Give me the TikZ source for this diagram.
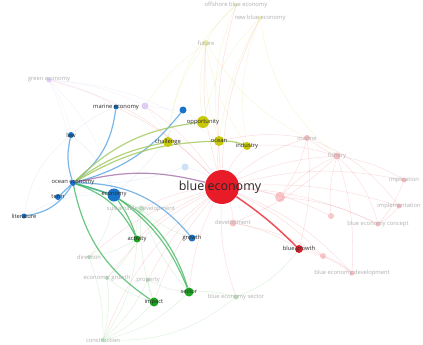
\documentclass[tikz,border=0pt]{standalone}
\usepackage{fontspec}
\setmainfont{Open Sans}
\pgfdeclarelayer{bg}
\pgfdeclarelayer{edges}
\pgfsetlayers{bg,edges,main}
\definecolor{cred}{RGB}{232,28,40}
\definecolor{cblue}{RGB}{25,115,200}
\definecolor{cyel}{RGB}{200,200,10}
\definecolor{cgrn}{RGB}{25,165,30}
\definecolor{cpur}{RGB}{200,170,235}
\definecolor{eblue}{RGB}{90,165,225}
\definecolor{egrn}{RGB}{70,185,100}
\definecolor{eyel}{RGB}{160,200,90}
\definecolor{epur}{RGB}{165,110,170}
\definecolor{txt}{RGB}{40,40,40}
\definecolor{ftxt}{RGB}{175,175,175}
\tikzset{
  dot/.style={circle,inner sep=0pt,minimum size=#1},
  lab/.style={font=\fontsize{5.8}{6.5}\selectfont,text=txt,inner sep=0pt},
  flab/.style={font=\fontsize{5.8}{6.5}\selectfont,text=ftxt,inner sep=0pt},
  ed/.style={line width=1.2pt,opacity=0.8},
  fe/.style={line width=0.45pt,opacity=0.15},
}
\begin{document}
\begin{tikzpicture}[x=1pt,y=1pt]
\begin{pgfonlayer}{bg}
\fill[white] (0,0) rectangle (423,-345);
\end{pgfonlayer}
\useasboundingbox (0,0) rectangle (423,-345);
% prominent nodes
\node[dot=34pt,fill=cred] (be) at (222,-187) {};
\node[font=\fontsize{12.5}{14}\selectfont,text=txt,inner sep=0pt] (belab) at (220,-187) {blue economy};
\node[dot=6pt,fill=cblue,label={[lab]center:ocean economy}] (oe) at (73,-183) {};
\node[dot=13pt,fill=cblue,label={[lab]center:economy}] (eco) at (114,-195) {};
\node[dot=6pt,fill=cblue,label={[lab]center:law}] (law) at (71,-135) {};
\node[dot=6pt,fill=cblue,label={[lab]center:term}] (term) at (58,-197) {};
\node[dot=5pt,fill=cblue,label={[lab]center:literature}] (lit) at (24,-216) {};
\node[dot=5pt,fill=cblue,label={[lab]center:marine economy}] (me) at (116,-107) {};
\node[dot=7pt,fill=cblue] (sea) at (183,-110) {};
\node[dot=7pt,fill=cblue,label={[lab]center:growth}] (gr) at (192,-238) {};
\node[dot=12pt,fill=cyel,label={[lab]center:opportunity}] (opp) at (203,-122) {};
\node[dot=10pt,fill=cyel,label={[lab]center:challenge}] (cha) at (168,-142) {};
\node[dot=10pt,fill=cyel,label={[lab]center:ocean}] (oce) at (219,-141) {};
\node[dot=8pt,fill=cyel,label={[lab]center:industry}] (ind) at (247,-146) {};
\node[dot=7pt,fill=cgrn,label={[lab]center:activity}] (act) at (137,-239) {};
\node[dot=9pt,fill=cgrn,label={[lab]center:sector}] (sec) at (189,-292) {};
\node[dot=9pt,fill=cgrn,label={[lab]center:impact}] (imp) at (154,-302) {};
\node[dot=8pt,fill=cred,label={[lab]center:blue growth}] (bg) at (299,-249) {};
% faint nodes
\node[dot=4pt,fill=cyel,opacity=0.3,label={[flab]center:offshore blue economy}] (obe) at (236,-5) {};
\node[dot=4pt,fill=cyel,opacity=0.3,label={[flab]center:new blue economy}] (nbe) at (260,-18) {};
\node[dot=6pt,fill=cyel,opacity=0.35,label={[flab]center:future}] (fut) at (206,-43) {};
\node[dot=5pt,fill=cpur,opacity=0.6,label={[flab]center:green economy}] (ge) at (49,-80) {};
\node[dot=7pt,fill=cpur,opacity=0.6] (pur) at (145,-106) {};
\node[dot=6pt,fill=cred,opacity=0.3,label={[flab]center:marine}] (mar) at (307,-138) {};
\node[dot=7pt,fill=cred,opacity=0.3,label={[flab]center:fishery}] (fis) at (337,-156) {};
\node[dot=5pt,fill=cred,opacity=0.3,label={[flab]center:implication}] (impl) at (404,-180) {};
\node[dot=5pt,fill=cred,opacity=0.3,label={[flab]center:implementation}] (imple) at (399,-206) {};
\node[dot=5pt,fill=cred,opacity=0.3,label={[flab]center:blue economy concept}] (bec) at (378,-224) {};
\node[dot=5pt,fill=cred,opacity=0.3,label={[flab]center:blue economy development}] (bed) at (352,-273) {};
\node[dot=7pt,fill=cred,opacity=0.25,label={[flab]center:development}] (dev) at (233,-223) {};
\node[dot=10pt,fill=cred,opacity=0.25] (r1) at (280,-197) {};
\node[dot=6pt,fill=cred,opacity=0.25] (r2) at (331,-216) {};
\node[dot=6pt,fill=cred,opacity=0.25] (r3) at (323,-256) {};
\node[dot=7pt,fill=eblue,opacity=0.3] (lb) at (185,-167) {};
\node[dot=5pt,fill=cgrn,opacity=0.3,label={[flab]center:blue economy sector}] (bes) at (236,-297) {};
\node[dot=7pt,fill=cgrn,opacity=0.2,label={[flab]center:sustainable development}] (sd) at (141,-209) {};
\node[dot=4pt,fill=cgrn,opacity=0.3,label={[flab]center:direction}] (dir) at (89,-257) {};
\node[dot=4pt,fill=cgrn,opacity=0.3,label={[flab]center:economic growth}] (eg) at (107,-278) {};
\node[dot=4pt,fill=cgrn,opacity=0.3,label={[flab]center:property}] (prop) at (148,-280) {};
\node[dot=4pt,fill=cgrn,opacity=0.3,label={[flab]center:construction}] (con) at (103,-340) {};
\begin{pgfonlayer}{edges}
% faint edges
\foreach \t/\b in {mar/10,fis/10,impl/12,imple/10,bec/10,bed/12,dev/10,r1/8,r2/10,r3/10,bg/5,fut/10,nbe/12,obe/10,ind/10,oce/8}
  \draw[fe,cred] (be) to[bend left=\b] (\t);
\foreach \t/\b in {sd/10,bes/10,prop/10,eg/12,dir/12,con/15,sec/10,imp/10,act/10,ge/15,pur/10,me/10}
  \draw[fe,cred] (be) to[bend right=\b] (\t);
\foreach \s/\t/\b in {fut/opp/10,fut/oce/10,fut/ind/12,fut/cha/15,fut/pur/10,nbe/opp/15,nbe/ind/15,nbe/oce/10,obe/oce/15,obe/cha/20,obe/fut/10,fut/mar/15,nbe/fis/20}
  \draw[fe,cyel] (\s) to[bend right=\b] (\t);
\foreach \s/\t/\b in {ge/pur/10,ge/oe/10,ge/eco/15,ge/me/10,ge/law/10,ge/oce/15,pur/me/5,pur/opp/10,pur/cha/10}
  \draw[fe,cpur] (\s) to[bend left=\b] (\t);
\foreach \s/\t/\b in {con/imp/10,con/sec/15,con/eg/10,con/act/15,con/bes/20,con/dir/10,con/prop/10,eg/act/10,eg/imp/10,dir/act/10,prop/sec/10,prop/imp/10,sd/act/10,sd/sec/10,sd/imp/10,bes/sec/10,bes/bg/15,eco/sd/5,sd/gr/10,dir/eco/15}
  \draw[fe,cgrn] (\s) to[bend right=\b] (\t);
\foreach \s/\t/\b in {fis/impl/10,fis/bec/15,fis/dev/10,fis/mar/5,mar/imple/15,mar/bg/10,fis/bed/10,impl/bec/10,imple/bec/10,r2/fis/10,r3/bed/10,bg/bed/10,r1/fis/10,dev/bg/10,r1/bec/10,mar/r1/10,dev/r3/10,ind/fis/10,oce/mar/10}
  \draw[fe,cred] (\s) to[bend left=\b] (\t);
\foreach \s/\t/\b in {law/eco/15,lit/eco/15,term/eco/10,lb/oe/10,lb/be/10,lit/law/20,law/me/10,sea/eco/10}
  \draw[fe,eblue] (\s) to[bend left=\b] (\t);
% prominent edges
\draw[ed,eblue] (oe) to[bend left=15] (law);
\draw[ed,eblue] (oe) to[bend right=22] (me);
\draw[ed,eblue] (oe) to[bend right=18] (sea);
\draw[ed,eyel] (oe) to[bend left=18] (opp);
\draw[ed,eyel] (oe) to[bend left=12] (cha);
\draw[ed,eyel] (oe) to[bend left=14] (oce);
\draw[ed,eyel] (oce) to[bend left=10] (ind);
\draw[ed,epur] (oe) to[bend left=14] (be);
\draw[ed,eblue,line width=1.5pt] (oe) to (eco);
\draw[ed,eblue] (oe) to (term);
\draw[ed,eblue] (oe) to[bend left=25] (lit);
\draw[ed,egrn] (oe) to[bend left=22] (act);
\draw[ed,eblue] (oe) to[bend left=25] (gr);
\draw[ed,egrn] (oe) to[bend left=30] (sec);
\draw[ed,egrn] (oe) to[bend right=22] (imp);
\draw[ed,egrn] (eco) to[bend left=8] (act);
\draw[ed,egrn] (eco) to[bend left=15] (sec);
\draw[ed,cred,line width=1.5pt,opacity=0.75] (be) to[bend left=5] (bg);
\end{pgfonlayer}
\end{tikzpicture}
\end{document}
